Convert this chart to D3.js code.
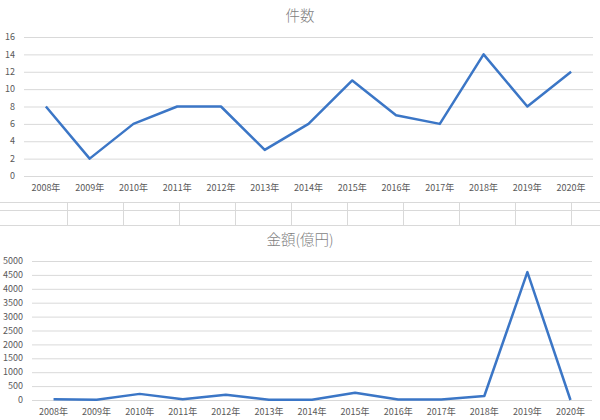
<!DOCTYPE html>
<html><head><meta charset="utf-8">
<script src="https://cdn.jsdelivr.net/npm/d3@7"></script>
<style>
body{margin:0;background:#fff;}
text{font-family:"Noto Sans CJK JP","Noto Sans",sans-serif;fill:#595959;}
text.title{fill:#7f7f7f;font-weight:300;}
</style></head>
<body><svg id="c" width="600" height="420"></svg>
<script>
const years = ["2008年","2009年","2010年","2011年","2012年","2013年","2014年","2015年","2016年","2017年","2018年","2019年","2020年"];
const counts = [8,2,6,8,8,3,6,11,7,6,14,8,12];
const amounts = [30,10,220,30,190,10,10,260,20,20,145,4600,0];
const countTicks = [0,2,4,6,8,10,12,14,16];
const amountTicks = [0,500,1000,1500,2000,2500,3000,3500,4000,4500,5000];
const titles = ["件数","金額(億円)"];

const svg = d3.select("#c");
const blue = "#3b76c6";

function panel(title, data, ticks, yMax, x0, x1, yTop, yBot, titleY, labelX, xLabelY){
  const g = svg.append("g");
  const x = d3.scaleBand().domain(years).range([x0,x1]);
  const y = d3.scaleLinear().domain([0,yMax]).range([yBot,yTop]);
  g.append("text").attr("class","title").attr("x",300).attr("y",titleY).attr("text-anchor","middle")
    .attr("font-size",14.5).text(title);
  g.selectAll("line.grid").data(ticks).enter().append("line")
    .attr("x1",x0).attr("x2",x1).attr("y1",d=>y(d)+0.5).attr("y2",d=>y(d)+0.5)
    .attr("stroke","#d9d9d9").attr("stroke-width",1);
  g.selectAll("text.yl").data(ticks).enter().append("text")
    .attr("x",labelX).attr("y",d=>y(d)).attr("dy","0.35em").attr("text-anchor","end")
    .attr("font-size",9).text(d=>d);
  g.selectAll("text.xl").data(years).enter().append("text")
    .attr("x",d=>x(d)+x.bandwidth()/2).attr("y",xLabelY).attr("dy","0.35em")
    .attr("text-anchor","middle").attr("font-size",9).text(d=>d);
  const line = d3.line().x((d,i)=>x(years[i])+x.bandwidth()/2).y(d=>y(d));
  g.append("path").datum(data).attr("d",line).attr("fill","none")
    .attr("stroke",blue).attr("stroke-width",2.5).attr("stroke-linejoin","round");
}

panel(titles[0], counts, countTicks, 16, 24, 593, 37, 176, 21, 15, 188);
panel(titles[1], amounts, amountTicks, 5000, 32, 592, 261, 400, 245, 23, 412);

// table-like separator between panels
const sep = svg.append("g");
[202,210,225].forEach(yy=>{
  sep.append("line").attr("x1",0).attr("x2",600).attr("y1",yy+0.5).attr("y2",yy+0.5)
    .attr("stroke","#d9d9d9");
});
d3.range(10).forEach(i=>{
  const xx = 67 + i*56;
  sep.append("line").attr("x1",xx+0.5).attr("x2",xx+0.5).attr("y1",202).attr("y2",226)
    .attr("stroke","#d9d9d9");
});
</script></body></html>
